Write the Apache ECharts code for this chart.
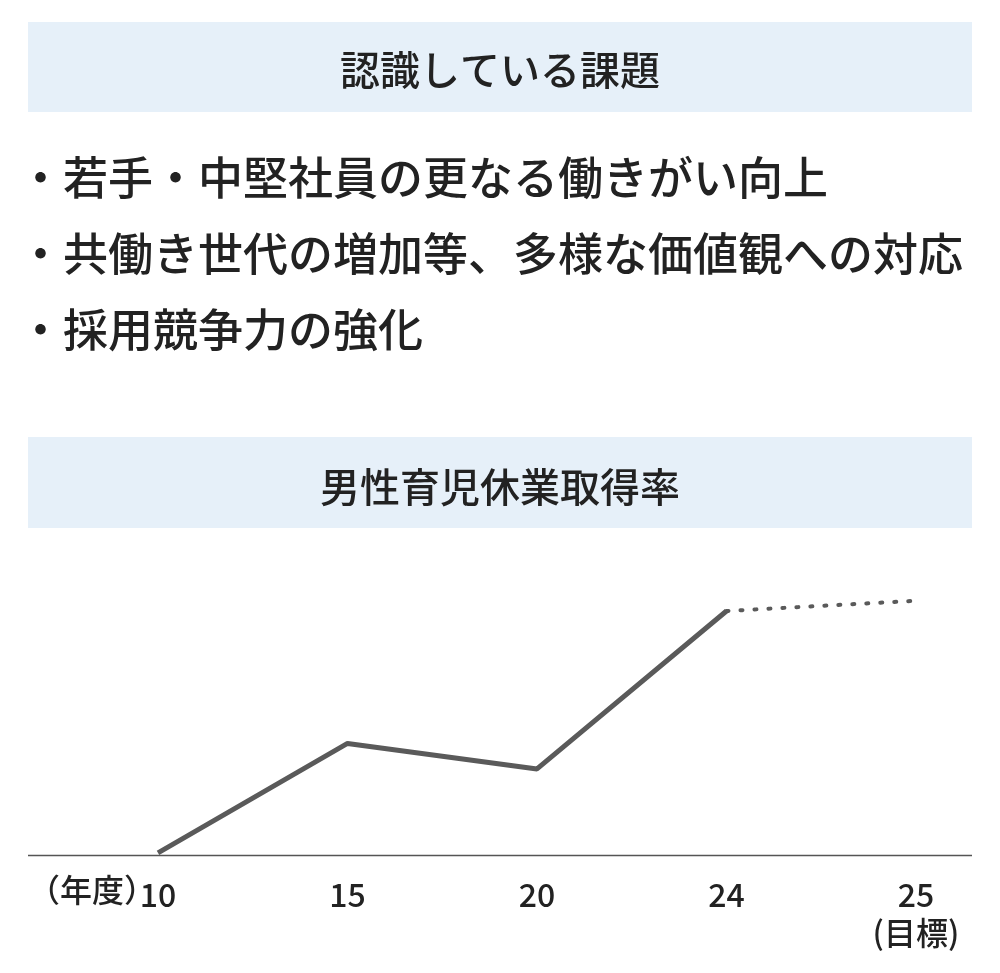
<!DOCTYPE html>
<html><head><meta charset="utf-8">
<script src="https://cdn.jsdelivr.net/npm/echarts@6/dist/echarts.min.js"></script>
<style>html,body{margin:0;padding:0;background:#fff}#c{width:1000px;height:973px}</style>
</head><body><div id="c"></div>
<script>
const categories = ['10','15','20','24','25\n(目標)'];
const actual = [1,44,34,96,null];
const target = [null,null,null,96,100];
const labelsText = ['1%','44%','34%','96%','100%'];
const bullets = ['・若手・中堅社員の更なる働きがい向上','・共働き世代の増加等、多様な価値観への対応','・採用競争力の強化'];
const F = '"Noto Sans CJK JP"';
const chart = echarts.init(document.getElementById('c'));
const g = [
 {type:'rect',shape:{x:28,y:22,width:944,height:90},style:{fill:'#e6f0f9'}},
 {type:'text',x:500,y:70,style:{text:'認識している課題',font:'500 40px '+F,fill:'#222',textAlign:'center',textVerticalAlign:'middle'}},
 {type:'rect',shape:{x:28,y:437,width:944,height:91},style:{fill:'#e6f0f9'}},
 {type:'text',x:500,y:487,style:{text:'男性育児休業取得率',font:'500 40px '+F,fill:'#222',textAlign:'center',textVerticalAlign:'middle'}},
 {type:'line',shape:{x1:28,y1:855.5,x2:972,y2:855.5},style:{stroke:'#555',lineWidth:1.5}},
 {type:'text',x:28,y:890,style:{text:'（年度）',font:'500 32px '+F,fill:'#222',textVerticalAlign:'middle'}}
];
bullets.forEach((b,i)=>g.push({type:'text',x:18,y:178+i*76,style:{text:b,font:'500 45px '+F,fill:'#222',textVerticalAlign:'middle'}}));
const offs = [[-8,0],[-8,0],[-18,18],[-4,0],[-10,0]];
const mk = arr => arr.map((v,i)=> v==null ? null : {value:v, label:{offset:offs[i]}});
const targetData = target.map((v,i)=> v==null ? null : {value:v, label:{show:i===4, offset:offs[i]}});
chart.setOption({
 graphic:g,
 grid:{left:158,right:84,top:600.8,bottom:117.5},
 xAxis:{type:'category',data:categories,boundaryGap:false,axisLine:{show:false},axisTick:{show:false},
   axisLabel:{fontFamily:F,fontSize:32,fontWeight:500,color:'#222',margin:20,lineHeight:38}},
 yAxis:{type:'value',min:0,max:100,show:false},
 series:[
  {type:'line',data:mk(actual),symbol:'none',showSymbol:true,lineStyle:{color:'#5a5a5a',width:5},
   label:{show:true,position:'top',distance:18,fontFamily:F,fontSize:33,fontWeight:500,color:'#222',formatter:p=>labelsText[p.dataIndex]}},
  {type:'line',data:targetData,symbol:'none',lineStyle:{color:'#5a5a5a',width:4,type:[2,12],cap:'round'},
   label:{position:'top',distance:18,fontFamily:F,fontSize:33,fontWeight:500,color:'#222',formatter:p=>labelsText[p.dataIndex]}}
 ]
});
</script></body></html>
